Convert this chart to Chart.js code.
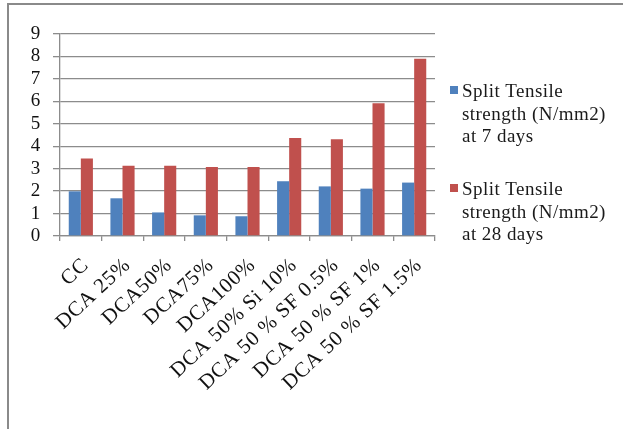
<!DOCTYPE html>
<html>
<head>
<meta charset="utf-8">
<script src="https://cdn.jsdelivr.net/npm/chart.js@4.4.1/dist/chart.umd.min.js"></script>
<style>
  html, body { margin: 0; padding: 0; background: #ffffff; }
  #wrap { position: relative; width: 623px; height: 429px; }
</style>
</head>
<body>
<div id="wrap"><canvas id="chart" width="623" height="429"></canvas></div>
<script>
// Mix designations along the category axis
const categories = [
  'CC', 'DCA 25%', 'DCA50%', 'DCA75%', 'DCA100%',
  'DCA 50% Si 10%', 'DCA 50 % SF 0.5%', 'DCA 50 % SF 1%', 'DCA 50 % SF 1.5%'
];

// Split tensile strength (N/mm2)
const strength7Days = [1.99, 1.68, 1.05, 0.92, 0.88, 2.44, 2.21, 2.11, 2.38];
const strength28Days = [3.45, 3.13, 3.13, 3.07, 3.07, 4.37, 4.31, 5.91, 7.90];

// Legend entries, one line per array element
const legend7Days = ['Split Tensile', 'strength (N/mm2)', 'at 7 days'];
const legend28Days = ['Split Tensile', 'strength (N/mm2)', 'at 28 days'];

// Value axis range
const yMin = 0;
const yMax = 9;
const yStep = 1;

const BLUE = '#4F81BD';
const RED = '#C0504D';
const GRID = '#8c8c8c';
const SERIF = '"Liberation Serif", "Times New Roman", serif';

// Outer frame (top and left edges visible) and loose character spacing
const framePlugin = {
  id: 'frame',
  beforeDraw(chart) {
    const ctx = chart.ctx;
    ctx.save();
    ctx.fillStyle = '#ffffff';
    ctx.fillRect(0, 0, chart.width, chart.height);
    ctx.strokeStyle = '#8a8a8a';
    ctx.lineWidth = 2;
    ctx.beginPath();
    ctx.moveTo(8, chart.height);
    ctx.lineTo(8, 4);
    ctx.lineTo(chart.width, 4);
    ctx.stroke();
    ctx.restore();
    ctx.letterSpacing = '0.7px';
  },
  afterDraw(chart) {
    chart.ctx.letterSpacing = '0px';
  }
};

// Multi-line legend at the right of the plot
const sideLegendPlugin = {
  id: 'sideLegend',
  afterDraw(chart) {
    const ctx = chart.ctx;
    const x = chart.chartArea.right + 15;
    const entries = [
      { lines: legend7Days, color: chart.data.datasets[0].backgroundColor, top: 86 },
      { lines: legend28Days, color: chart.data.datasets[1].backgroundColor, top: 184 }
    ];
    ctx.save();
    ctx.letterSpacing = '0.45px';
    ctx.font = '19px ' + SERIF;
    ctx.textBaseline = 'alphabetic';
    entries.forEach(e => {
      ctx.fillStyle = e.color;
      ctx.fillRect(x, e.top, 8, 8);
      ctx.fillStyle = '#1a1a1a';
      e.lines.forEach((line, i) => {
        ctx.fillText(line, x + 12, e.top + 11 + i * 22.5);
      });
    });
    ctx.restore();
  }
};

new Chart(document.getElementById('chart'), {
  type: 'bar',
  data: {
    labels: categories,
    datasets: [
      { label: legend7Days.join(' '), data: strength7Days, backgroundColor: BLUE, borderWidth: 0 },
      { label: legend28Days.join(' '), data: strength28Days, backgroundColor: RED, borderWidth: 0 }
    ]
  },
  options: {
    responsive: false,
    animation: false,
    devicePixelRatio: 1,
    layout: { padding: { left: 10, top: 34, right: 188, bottom: 0 } },
    datasets: {
      bar: { categoryPercentage: 0.58, barPercentage: 1.0 }
    },
    plugins: {
      legend: { display: false },
      tooltip: { enabled: false }
    },
    scales: {
      x: {
        afterFit(scale) { scale.height = 193; },
        grid: {
          offset: true,
          drawOnChartArea: false,
          drawTicks: true,
          tickLength: 5,
          tickColor: GRID,
          lineWidth: 1.3
        },
        border: { color: GRID, width: 1.3 },
        ticks: {
          autoSkip: false,
          minRotation: 43,
          maxRotation: 43,
          padding: 12,
          labelOffset: 5,
          color: '#111111',
          font: { family: SERIF, size: 21 }
        }
      },
      y: {
        min: yMin,
        max: yMax,
        afterFit(scale) { scale.width = 50; },
        grid: {
          color: GRID,
          lineWidth: 1.3,
          drawTicks: true,
          tickLength: 7,
          tickColor: GRID
        },
        border: { color: GRID, width: 1.3 },
        ticks: {
          stepSize: yStep,
          autoSkip: false,
          padding: 12,
          color: '#111111',
          font: { family: SERIF, size: 19 }
        }
      }
    }
  },
  plugins: [framePlugin, sideLegendPlugin]
});
</script>
</body>
</html>
